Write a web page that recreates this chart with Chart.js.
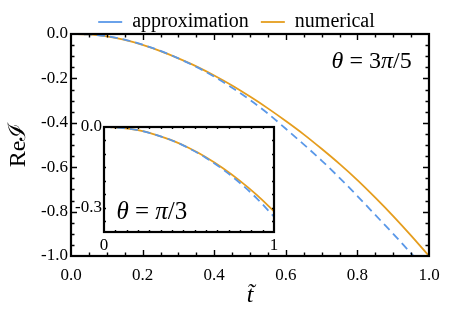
<!DOCTYPE html>
<html>
<head>
<meta charset="utf-8">
<script src="https://cdn.jsdelivr.net/npm/chart.js@4.4.1/dist/chart.umd.min.js"></script>
<style>
  html, body { margin: 0; padding: 0; background: #fff; }
  #wrap { position: relative; width: 453px; height: 312px; }
  canvas { position: absolute; left: 0; top: 0; }
</style>
</head>
<body>
<div id="wrap">
  <canvas id="main" width="453" height="312"></canvas>
  <canvas id="inset" width="453" height="312"></canvas>
</div>
<script>
// main panel, theta = 3pi/5
const tMain = [0, 0.05, 0.1, 0.15, 0.2, 0.25, 0.3, 0.35, 0.4, 0.45, 0.5, 0.55, 0.6, 0.65, 0.7, 0.75, 0.8, 0.85, 0.9, 0.95, 1.0];
const approxMain = [0, -0.002, -0.01, -0.025, -0.048, -0.076, -0.11, -0.148, -0.192, -0.242, -0.297, -0.358, -0.427, -0.497, -0.57, -0.648, -0.73, -0.815, -0.9, -0.988, -1.075];
const numMain = [0, -0.002, -0.011, -0.027, -0.049, -0.077, -0.11, -0.146, -0.187, -0.232, -0.282, -0.335, -0.392, -0.452, -0.517, -0.585, -0.658, -0.737, -0.82, -0.908, -1.0];
const xTicksMain = [0, 0.2, 0.4, 0.6, 0.8, 1.0];
const yTicksMain = [0, -0.2, -0.4, -0.6, -0.8, -1.0];

// inset, theta = pi/3
const tInset = [0, 0.1, 0.2, 0.3, 0.4, 0.5, 0.6, 0.7, 0.8, 0.9, 1.0];
const approxInset = [0, -0.003, -0.012, -0.028, -0.05, -0.079, -0.115, -0.158, -0.208, -0.266, -0.333];
const numInset = [0, -0.003, -0.012, -0.028, -0.05, -0.078, -0.112, -0.153, -0.2, -0.253, -0.313];
const xTicksInset = [0, 1];
const yTicksInset = [0, -0.3];

const BLUE = '#5a98e8';
const ORANGE = '#e59d1e';
const SERIF = '"Liberation Serif", "DejaVu Serif", serif';

Chart.defaults.font.family = SERIF;
Chart.defaults.color = '#000';

const pts = (xs, ys) => xs.map((x, i) => ({ x: x, y: ys[i] }));

function steps(lo, hi, step) {
  const out = [];
  for (let v = lo; v <= hi + 1e-9; v += step) out.push(+v.toFixed(4));
  return out;
}

// black frame with inward ticks on all four sides
const frameTicks = {
  id: 'frameTicks',
  afterDraw(chart, args, o) {
    const { ctx, chartArea: a, scales: { x, y } } = chart;
    ctx.save();
    ctx.strokeStyle = '#000';
    ctx.lineWidth = 1.4;
    ctx.beginPath();
    const mark = (vals, len) => {
      vals.forEach(v => {
        const px = Math.round(x.getPixelForValue(v)) + 0.5;
        if (px > a.left + 1 && px < a.right - 1) {
          ctx.moveTo(px, a.bottom); ctx.lineTo(px, a.bottom - len);
          ctx.moveTo(px, a.top); ctx.lineTo(px, a.top + len);
        }
      });
    };
    const markY = (vals, len) => {
      vals.forEach(v => {
        const py = Math.round(y.getPixelForValue(v)) + 0.5;
        if (py > a.top + 1 && py < a.bottom - 1) {
          ctx.moveTo(a.left, py); ctx.lineTo(a.left + len, py);
          ctx.moveTo(a.right, py); ctx.lineTo(a.right - len, py);
        }
      });
    };
    mark(o.xMinor, o.minor); mark(o.xMajor, o.major);
    markY(o.yMinor, o.minor); markY(o.yMajor, o.major);
    ctx.stroke();
    ctx.lineWidth = 2.2;
    ctx.strokeRect(a.left, a.top, a.right - a.left, a.bottom - a.top);
    ctx.restore();
  }
};

// math-style label: [text, italic] pieces drawn left to right
const mathLabel = {
  id: 'mathLabel',
  afterDraw(chart, args, o) {
    const { ctx, scales: { x, y } } = chart;
    let cx = x.getPixelForValue(o.x);
    const cy = y.getPixelForValue(o.y);
    ctx.save();
    ctx.fillStyle = '#000';
    ctx.textBaseline = 'middle';
    o.parts.forEach(([t, it]) => {
      ctx.font = (it ? 'italic ' : '') + o.size + 'px ' + SERIF;
      ctx.fillText(t, cx, cy);
      cx += ctx.measureText(t).width;
    });
    ctx.restore();
  }
};

// centre the legend row over the plot area rather than the whole canvas
const legendShift = {
  id: 'legendShift',
  afterLayout(chart, args, o) {
    if (chart.legend) {
      chart.legend.left += o.dx;
      chart.legend.right += o.dx;
      chart.legend.top += o.dy;
      chart.legend.bottom += o.dy;
    }
  }
};

const lineSet = (label, data, color, dash) => ({
  label: label,
  data: data,
  borderColor: color,
  backgroundColor: color,
  borderWidth: 1.8,
  borderDash: dash,
  pointRadius: 0,
  fill: false,
  cubicInterpolationMode: 'monotone'
});

new Chart(document.getElementById('main'), {
  type: 'line',
  data: {
    datasets: [
      lineSet('approximation', pts(tMain, approxMain), BLUE, [8, 5]),
      lineSet('numerical', pts(tMain, numMain), ORANGE, [])
    ]
  },
  options: {
    responsive: false,
    animation: false,
    devicePixelRatio: 1,
    layout: { padding: { left: 0, right: 24, top: 2, bottom: 0 } },
    plugins: {
      legend: {
        position: 'top',
        maxHeight: 32,
        labels: {
          usePointStyle: true,
          pointStyle: 'line',
          pointStyleWidth: 24,
          padding: 12,
          font: { size: 20 }
        }
      },
      legendShift: { dx: 22, dy: -2 },
      tooltip: { enabled: false },
      frameTicks: {
        xMajor: xTicksMain, xMinor: steps(0, 1, 0.05),
        yMajor: yTicksMain, yMinor: steps(-1, 0, 0.05),
        major: 6, minor: 3.5
      },
      mathLabel: { x: 0.728, y: -0.126, size: 24, parts: [['θ', true], [' = ', false], ['3', false], ['π', true], ['/5', false]] }
    },
    scales: {
      x: {
        type: 'linear', min: 0, max: 1,
        afterBuildTicks: s => { s.ticks = xTicksMain.map(v => ({ value: v })); },
        afterFit: s => { s.height = 56; },
        ticks: { font: { size: 17 }, padding: 9, maxRotation: 0, callback: v => v.toFixed(1) },
        grid: { display: false, drawTicks: false },
        border: { display: false },
        title: { display: true, text: 't\u0303', font: { size: 24, style: 'italic' }, padding: { top: 0, bottom: 2 } }
      },
      y: {
        type: 'linear', min: -1, max: 0,
        afterBuildTicks: s => { s.ticks = yTicksMain.map(v => ({ value: v })); },
        afterFit: s => { s.width = 71; },
        ticks: { font: { size: 17 }, padding: 3, callback: v => v.toFixed(1) },
        grid: { display: false, drawTicks: false },
        border: { display: false },
        title: { display: true, text: 'Re\u2110', font: { size: 24 }, padding: { top: 4, bottom: 0 } }
      }
    }
  },
  plugins: [frameTicks, mathLabel, legendShift]
});

new Chart(document.getElementById('inset'), {
  type: 'line',
  data: {
    datasets: [
      lineSet('approximation', pts(tInset, approxInset), BLUE, [8, 5]),
      lineSet('numerical', pts(tInset, numInset), ORANGE, [])
    ]
  },
  options: {
    responsive: false,
    animation: false,
    devicePixelRatio: 1,
    layout: { padding: { left: 0, right: 179, top: 127, bottom: 60 } },
    plugins: {
      legend: { display: false },
      tooltip: { enabled: false },
      frameTicks: {
        xMajor: [], xMinor: steps(0, 1, 1 / 15),
        yMajor: [], yMinor: steps(-0.35, 0, 0.05),
        major: 3, minor: 2
      },
      mathLabel: { x: 0.073, y: -0.317, size: 25, parts: [['θ', true], [' = ', false], ['π', true], ['/3', false]] }
    },
    scales: {
      x: {
        type: 'linear', min: 0, max: 1,
        afterBuildTicks: s => { s.ticks = xTicksInset.map(v => ({ value: v })); },
        afterFit: s => { s.height = 20; },
        ticks: { font: { size: 17 }, padding: 3, maxRotation: 0, callback: v => String(v) },
        grid: { display: false, drawTicks: false },
        border: { display: false }
      },
      y: {
        type: 'linear', min: -0.39, max: 0,
        afterBuildTicks: s => { s.ticks = yTicksInset.map(v => ({ value: v })); },
        afterFit: s => { s.width = 104; },
        ticks: { font: { size: 17 }, padding: 2, callback: v => v.toFixed(1) },
        grid: { display: false, drawTicks: false },
        border: { display: false }
      }
    }
  },
  plugins: [frameTicks, mathLabel]
});
</script>
</body>
</html>
